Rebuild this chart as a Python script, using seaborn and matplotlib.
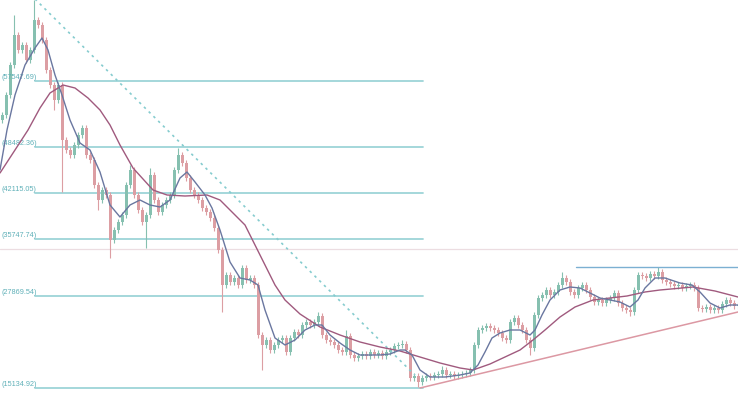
import numpy as np
import pandas as pd
import matplotlib
matplotlib.use("Agg")
import matplotlib.pyplot as plt
import seaborn as sns

# ---------------- data ----------------
first_open = 52220
closes = [
    52910, 55680, 59830, 63980, 61900, 62590, 60520, 61900, 66050, 65360,
    63290, 59130, 57060, 54980, 57060, 49450, 48070, 47370, 48760, 50140,
    51110, 47370, 46680, 43220, 41150, 42530, 41840, 35610, 37000, 38100,
    39070, 43220, 45300, 41840, 39760, 38100, 39070, 44610, 41150, 39490,
    40460, 41150, 41840, 45300, 47370, 46270, 44190, 42530, 41840, 41150,
    40040, 39490, 38660, 37270, 34230, 29390, 30770, 29800, 30360, 29390,
    31740, 30080, 30360, 29390, 22470, 21090, 21780, 20390, 21090, 21780,
    22050, 20120, 22050, 22880, 22470, 23850, 24270, 23850, 24270, 25100,
    22470, 21780, 21500, 21090, 20390, 20120, 22330, 19700, 19290, 19560,
    19840, 19560, 20120, 19700, 19980, 19560, 20120, 20390, 20950, 21090,
    21220, 20390, 16520, 16800, 15970, 16520, 16800, 16660, 16930, 17070,
    17630, 16930, 17070, 16800, 16930, 17070, 17210, 17630, 21090, 23160,
    23440, 23710, 23440, 23160, 22750, 22050, 21780, 24270, 24820, 23850,
    23160, 21780, 20670, 25240, 27590, 28000, 28700, 28000, 28420, 29390,
    30360, 29800, 28420, 28000, 28970, 29390, 28700, 27730, 27040, 27310,
    26900, 27310, 27590, 28280, 26900, 26210, 25930, 25650, 28700, 30770,
    30630, 30360, 30910, 30630, 31190, 30080, 29800, 29530, 29250, 29390,
    28970, 29250, 29390, 28970, 26210, 26070, 26340, 25930, 26210, 25930,
    26760, 27310, 26900, 26480, 26620,
]
long_wick_high = {3: 66740, 8: 68800, 32: 45990, 37: 45580, 44: 48340,
                  79: 25650, 86: 23160, 100: 21780, 110: 18180, 140: 31190,
                  164: 31880}
long_wick_low = {13: 53600, 15: 42260, 24: 39760, 27: 33120, 36: 34510,
                 55: 25650, 65: 17630, 104: 15270, 132: 19700, 157: 25100}

ma_fast_day = [0, 7, 15, 25, 35, 42, 48, 55, 62, 70, 80, 90, 100, 110, 120,
               130, 140, 150, 160, 170, 180, 187, 195, 205, 212, 220, 230,
               240, 250, 258, 265, 275, 285, 295, 305, 315, 322, 330, 340,
               350, 360, 370, 380, 390, 400, 405, 412, 420, 430, 445, 460,
               470, 478, 485, 492, 500, 510, 520, 530, 535, 542, 550, 560,
               570, 580, 590, 600, 610, 620, 630, 638, 645, 655, 665, 680,
               692, 700, 710, 720, 730, 738]
ma_fast_val = [45297, 50831, 55674, 59825, 62177, 63560, 61900, 58441, 55674,
               52215, 49033, 48064, 45020, 40454, 38794, 40454, 41146, 40454,
               40177, 41146, 44190, 45020, 43636, 41838, 40039, 36995, 32568,
               30354, 30077, 29385, 25926, 22052, 21084, 21776, 23159, 23851,
               23851, 22467, 21361, 20392, 19700, 19700, 19700, 19839, 20392,
               20392, 19700, 17625, 16656, 16656, 16933, 17210, 18317, 20115,
               22052, 22744, 23159, 23159, 22467, 23159, 25235, 27310, 28694,
               29109, 28970, 28279, 27587, 27310, 27033, 26341, 27310, 28970,
               30354, 30354, 29662, 29385, 28417, 26895, 26203, 26618, 26618]

ma_slow_day = [0, 15, 28, 40, 50, 63, 75, 88, 100, 110, 120, 133, 153, 167,
               185, 207, 220, 233, 245, 255, 265, 275, 285, 300, 320, 340,
               360, 380, 400, 420, 440, 460, 473, 490, 505, 520, 533, 545,
               560, 575, 593, 610, 627, 645, 660, 693, 715, 738]
ma_slow_val = [44882, 48064, 50831, 53875, 55951, 57057, 56642, 55259, 53598,
               51523, 48756, 45574, 42530, 41838, 41699, 41838, 41146, 39347,
               37687, 34920, 32153, 29385, 27310, 25373, 23574, 22467, 21499,
               20807, 20254, 19423, 18593, 17902, 17625, 18455, 19423, 20392,
               21776, 23159, 24958, 26341, 27310, 27587, 27863, 28417, 28694,
               29109, 28555, 27725]

# fib levels; the top one (69095.18) sits at the upper edge, its label is off-view
fib_levels = [15134.92, 27869.54, 35747.74, 42115.05, 48482.36, 57547.69, 69095.18]
fib_labeled = [True, True, True, True, True, True, False]
fib_days = [35, 423]

fan_day = [35, 415]
fan_val = [68956, 16905]

support_day = [420, 738]
support_val = [15134, 25650]

resist_day = [576, 738]
resist_val = [31876, 31876]

last_price = 34366

# ---------------- style ----------------
up_col = "#86c0b0"
down_col = "#dc9ea3"
fib_col = "#9dd4d8"
fib_txt = "#5fb0b8"
fan_col = "#86cccf"
fast_col = "#6a77a0"
slow_col = "#a05a7e"
support_col = "#dc98a3"
resist_col = "#7cb0d2"
price_line_col = "#ecdde1"

sns.set_theme(style="white")
fig = plt.figure(figsize=(7.38, 3.93), dpi=100)
fig.patch.set_facecolor("white")
ax = fig.add_axes([0, 0, 1, 1])
ax.set_facecolor("white")

# candles
n = len(closes)
days = np.arange(n) * 4 + 2
opens = [first_open] + closes[:-1]
df = pd.DataFrame({"day": days, "open": opens, "close": closes})
df["top"] = df[["open", "close"]].max(axis=1)
df["bot"] = df[["open", "close"]].min(axis=1)
wick_pad = 450
df["high"] = df["top"] + wick_pad
df["low"] = df["bot"] - wick_pad
for k, v in long_wick_high.items():
    df.loc[k, "high"] = v
for k, v in long_wick_low.items():
    df.loc[k, "low"] = v
df["col"] = np.where(df["close"] >= df["open"], up_col, down_col)

ax.vlines(df["day"], df["low"], df["high"], colors=df["col"], lw=0.8, zorder=2)
ax.bar(df["day"], (df["top"] - df["bot"]).clip(lower=150), bottom=df["bot"],
       width=3.0, color=df["col"], edgecolor="none", zorder=3)

# faint last-price line
ax.axhline(last_price, color=price_line_col, lw=0.9, zorder=1)

# fib retracement
for lv, show in zip(fib_levels, fib_labeled):
    sns.lineplot(x=fib_days, y=[lv, lv], ax=ax, color=fib_col, lw=1.3, zorder=1)
    if show:
        ax.text(1, lv + 520, f"({lv:.2f})", ha="left", va="center",
                fontsize=5.2, color=fib_txt, family="Liberation Sans")

# trend fan line (dotted)
sns.lineplot(x=fan_day, y=fan_val, ax=ax, color=fan_col, lw=1.2,
             linestyle=(0, (1.5, 2.5)), zorder=4)

# moving averages
sns.lineplot(x=ma_slow_day, y=ma_slow_val, ax=ax, color=slow_col, lw=1.0,
             sort=False, estimator=None, zorder=5)
sns.lineplot(x=ma_fast_day, y=ma_fast_val, ax=ax, color=fast_col, lw=1.0,
             sort=False, estimator=None, zorder=5)

# support / resistance
sns.lineplot(x=support_day, y=support_val, ax=ax, color=support_col, lw=1.1, zorder=4)
sns.lineplot(x=resist_day, y=resist_val, ax=ax, color=resist_col, lw=1.0, zorder=4)

ax.set_xlim(0, 738)
ax.set_ylim(68818 - 138.36 * 393, 68818)
ax.set_axis_off()
if ax.get_legend():
    ax.get_legend().remove()

fig.savefig("out.png", dpi=100, facecolor="white")
